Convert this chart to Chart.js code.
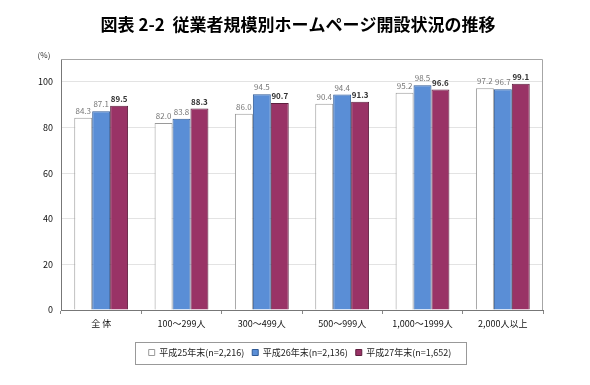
<!DOCTYPE html>
<html>
<head>
<meta charset="utf-8">
<script src="https://cdn.jsdelivr.net/npm/chart.js@4"></script>
<style>
  html, body { margin: 0; padding: 0; background: #fff; }
  #wrap { width: 590px; height: 385px; position: relative; }
</style>
</head>
<body>
<div id="wrap"><canvas id="sizechart" width="590" height="385"></canvas></div>
<script>
// categories and values (%)
const categories = ['全 体', '100～299人', '300～499人', '500～999人', '1,000～1999人', '2,000人以上'];
const h25 = [84.3, 82.0, 86.0, 90.4, 95.2, 97.2];
const h26 = [87.1, 83.8, 94.5, 94.4, 98.5, 96.7];
const h27 = [89.5, 88.3, 90.7, 91.3, 96.6, 99.1];
const seriesNames = ['平成25年末(n=2,216)', '平成26年末(n=2,136)', '平成27年末(n=1,652)'];
const yTicks = [0, 20, 40, 60, 80, 100];

const FONT = "'Noto Sans CJK JP', 'Noto Sans', sans-serif";

// title, (%) label, frame, value labels, legend box
const extras = {
  id: 'extras',
  afterDraw(chart) {
    const ctx = chart.ctx;
    const area = chart.chartArea;
    ctx.save();
    // frame top/right
    ctx.strokeStyle = '#a6a6a6';
    ctx.lineWidth = 1;
    ctx.beginPath();
    ctx.moveTo(area.left, area.top + 0.5);
    ctx.lineTo(area.right - 0.5, area.top + 0.5);
    ctx.lineTo(area.right - 0.5, area.bottom);
    ctx.stroke();

    // title
    ctx.fillStyle = '#000';
    ctx.font = 'bold 17px ' + FONT;
    ctx.textAlign = 'center';
    ctx.textBaseline = 'middle';
    ctx.fillText('図表 2-2  従業者規模別ホームページ開設状況の推移', 298, 25);

    // unit
    ctx.font = '8px ' + FONT;
    ctx.fillStyle = '#333';
    ctx.fillText('(%)', 44, 55);

    // value labels
    chart.data.datasets.forEach((ds, i) => {
      const meta = chart.getDatasetMeta(i);
      ctx.font = (i === 2 ? 'bold ' : '') + '8px ' + FONT;
      ctx.fillStyle = i === 2 ? '#333' : '#777';
      ctx.textBaseline = 'bottom';
      meta.data.forEach((bar, j) => {
        ctx.fillText(ds.data[j].toFixed(1), bar.x, bar.y - 3);
      });
    });

    // legend frame
    const lg = chart.legend;
    if (lg && lg.legendHitBoxes.length) {
      const boxes = lg.legendHitBoxes;
      const x1 = boxes[0].left - 14;
      const last = boxes[boxes.length - 1];
      const x2 = last.left + last.width + 14;
      ctx.strokeStyle = '#999';
      ctx.strokeRect(Math.round(x1) + 0.5, Math.round(lg.top + 2) + 0.5, Math.round(x2 - x1), 22);
    }
    ctx.restore();
  }
};

const ctx = document.getElementById('sizechart').getContext('2d');
new Chart(ctx, {
  type: 'bar',
  data: {
    labels: categories,
    datasets: [{
      label: seriesNames[0],
      data: h25,
      backgroundColor: '#ffffff',
      borderColor: '#9a9a9a',
      borderWidth: 1
    }, {
      label: seriesNames[1],
      data: h26,
      backgroundColor: '#5a8ed6',
      borderColor: '#2f5a96',
      borderWidth: 1
    }, {
      label: seriesNames[2],
      data: h27,
      backgroundColor: '#993366',
      borderColor: '#5e1f3e',
      borderWidth: 1
    }]
  },
  options: {
    responsive: false,
    animation: false,
    layout: { padding: { top: 59, right: 0, bottom: 18, left: 10 } },
    datasets: {
      bar: { categoryPercentage: 0.67, barPercentage: 1.0 }
    },
    plugins: {
      title: { display: false },
      tooltip: { enabled: false },
      legend: {
        position: 'bottom',
        labels: {
          font: { family: FONT, size: 9 },
          color: '#222',
          boxWidth: 6,
          boxHeight: 6,
          padding: 8
        }
      }
    },
    scales: {
      x: {
        offset: true,
        grid: {
          offset: true,
          drawOnChartArea: false,
          drawTicks: true,
          tickLength: 4,
          color: '#888'
        },
        border: { color: '#777' },
        ticks: {
          font: { family: FONT, size: 9 },
          color: '#111',
          padding: 4,
          maxRotation: 0,
          autoSkip: false
        },
        afterFit(scale) { scale.height = 30; }
      },
      y: {
        min: 0,
        max: 110,
        afterBuildTicks(scale) {
          scale.ticks = yTicks.map(v => ({ value: v }));
        },
        grid: {
          color: '#e3e3e3',
          drawTicks: false
        },
        border: { color: '#777' },
        ticks: {
          font: { family: FONT, size: 9 },
          color: '#111',
          padding: 8
        },
        afterFit(scale) { scale.width = 51; }
      },
      y2: {
        position: 'right',
        min: 0,
        max: 110,
        grid: { display: false },
        border: { display: false },
        ticks: { display: false },
        afterFit(scale) { scale.width = 47; }
      }
    }
  },
  plugins: [extras]
});
</script>
</body>
</html>
